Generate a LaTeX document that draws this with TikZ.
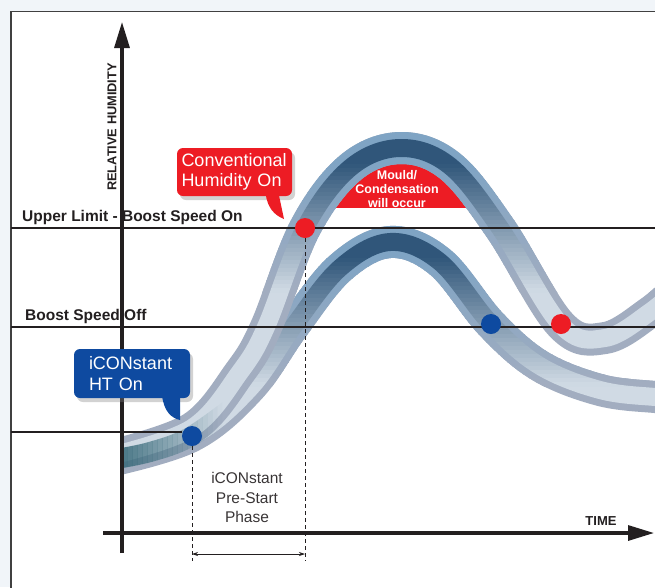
\documentclass[tikz,border=0pt]{standalone}
\usepackage{fontspec}
\setmainfont{Liberation Sans}
\usepackage{xcolor}
\usepackage{tikz}
\usetikzlibrary{arrows.meta,calc,positioning,shadows}

\definecolor{bgpanel}{HTML}{F1F5F9}
\definecolor{framegray}{HTML}{404040}
\definecolor{inkblack}{HTML}{231F20}
\definecolor{alertred}{HTML}{ED1C24}
\definecolor{iconblue}{HTML}{0E4AA0}
\definecolor{rimlight}{HTML}{A2ADC0}
\definecolor{corelight}{HTML}{D0DAE4}
\definecolor{rimdark}{HTML}{7FA4C4}
\definecolor{coredark}{HTML}{30567A}
\definecolor{coreteal}{HTML}{356878}

\tikzset{
  tubelight/.style={line width=7pt, draw=rimlight, double=corelight, double distance=18pt},
  tubedark/.style={line width=7pt, draw=rimdark, double=coredark, double distance=18pt},
  tubeband/.style={line width=7pt, draw=rimdark!#1!rimlight, double=coredark!#1!corelight, double distance=18pt},
  levelline/.style={draw=inkblack, line width=2.8pt},
  axisline/.style={draw=inkblack, line width=3.2pt, -{Triangle[length=26pt, width=15pt]}},
  guideline/.style={draw=inkblack, line width=0.7pt, dash pattern=on 4pt off 3pt},
  statedot/.style={circle, minimum size=20pt, inner sep=0pt},
  levellabel/.style={font=\bfseries\fontsize{15.5}{18}\selectfont, text=inkblack, inner sep=0pt},
  callout/.style={rounded corners=6pt, text=white, align=left, inner ysep=0pt,
    font=\fontsize{18}{20.5}\selectfont,
    drop shadow={opacity=0.35, shadow xshift=3pt, shadow yshift=-4pt}},
}

\def\uppercurve{plot[smooth, tension=0.6] coordinates {(110,456) (192,428) (240,372) (266,327) (305,228) (350,168) (400,148) (450,166) (500,228) (561,325) (605,338) (650,312) (685,282)}}
\def\lowercurve{plot[smooth, tension=0.6] coordinates {(110,461) (192,436) (250,388) (293,327) (340,268) (390,242) (440,262) (491,324) (540,366) (600,390) (655,397) (685,398)}}
\def\startcurve{plot[smooth, tension=0.6] coordinates {(110,460) (150,452) (190,437) (235,405)}}

\begin{document}
\begin{tikzpicture}[x=1pt, y=-1pt]
  \useasboundingbox (0,0) rectangle (655,587);
  \clip (0,0) rectangle (655,587);
  \fill[bgpanel] (0,0) rectangle (655,587);
  \draw[framegray, fill=white, line width=1.5pt] (11,11.5) rectangle (680,610);

  % mould zone under the upper curve
  \begin{scope}
    \clip (300,100) rectangle (500,207.5);
    \fill[alertred] \uppercurve -- cycle;
  \end{scope}

  % humidity tubes, dark at the crest and paler below it
  \begin{scope}
    \clip (122,0) rectangle (655,587);
    \foreach \crv/\pk in {\lowercurve/242, \uppercurve/148} {
      \draw[tubelight] \crv;
      \begin{scope}
        \clip (122,0) rectangle (660,\pk+16.5);
        \draw[tubedark] \crv;
      \end{scope}
      \foreach \i in {0,...,31} {
        \pgfmathsetmacro\ya{\pk+16+4*\i}
        \pgfmathtruncatemacro\p{100-100*(\i+0.5)/32}
        \begin{scope}
          \clip (122,\ya) rectangle (660,\ya+4.4);
          \draw[tubeband=\p] \crv;
        \end{scope}
      }
    }
    % teal tint where both tubes start
    \foreach \i in {0,...,19} {
      \pgfmathsetmacro\xa{122+5*\i}
      \pgfmathsetmacro\o{0.85*(1-(\i+0.5)/20)}
      \begin{scope}
        \clip (\xa,380) rectangle (\xa+5.3,480);
        \draw[coreteal, line width=20pt, opacity=\o] \startcurve;
      \end{scope}
    }
  \end{scope}

  \node[font=\bfseries\fontsize{12.5}{14}\selectfont, text=white, align=center] (mould) at (397,189) {Mould/\\Condensation\\will occur};

  % levels
  \coordinate (upL) at (11,228);  \coordinate (upR) at (655,228);
  \coordinate (offL) at (11,327); \coordinate (offR) at (655,327);
  \coordinate (lowL) at (11,432);
  \draw[levelline] (upL) -- (upR);
  \draw[levelline] (offL) -- (offR);

  % axes
  \coordinate (yfoot) at (122,553); \coordinate (ytip) at (122,22);
  \coordinate (xfoot) at (103,533); \coordinate (xtip) at (654,533);
  \draw[axisline] (yfoot) -- (ytip);
  \draw[axisline] (xfoot) -- (xtip);

  \node[statedot, fill=alertred] (convon) at (305,228) {};
  \node[statedot, fill=iconblue] (hton) at (192,436) {};
  \node[statedot, fill=iconblue] (htoff) at (491,324) {};
  \node[statedot, fill=alertred] (convoff) at (561,324) {};
  \draw[levelline] (lowL) -- (lowL -| hton.west);

  % pre-start phase
  \coordinate (phA) at (192,561); \coordinate (phB) at (305,561);
  \coordinate (arA) at (192,554); \coordinate (arB) at (305,554);
  \draw[guideline] (hton.south) -- (phA);
  \draw[guideline] (convon.south) -- (phB);
  \draw[inkblack, line width=0.7pt, {Stealth[length=6pt, width=4pt]}-{Stealth[length=6pt, width=4pt]}] (arA) -- (arB);
  \node[font=\fontsize{15.5}{19.5}\selectfont, text=inkblack!90, align=center, anchor=north] (phase) at (247,469) {iCONstant\\Pre-Start\\Phase};

  % labels
  \node[levellabel, anchor=base west] (uplbl) at (22,221) {Upper Limit - Boost Speed On};
  \node[levellabel, anchor=base west] (offlbl) at (25,320) {Boost Speed Off};
  \node[font=\bfseries\fontsize{12.8}{15}\selectfont, text=inkblack, rotate=90, inner sep=0pt] (ylbl) at (112,127) {RELATIVE HUMIDITY};
  \node[font=\bfseries\fontsize{13}{15}\selectfont, text=inkblack, inner sep=0pt] (xlbl) at (601,521) {TIME};

  % callouts
  \node[callout, fill=alertred, text width=106pt, inner xsep=4.5pt, minimum height=48pt] (conv) at (234.5,172) {Conventional\\Humidity On};
  \coordinate (convtip) at (284,219);
  \fill[alertred] ($(conv.south)+(31,-3)$) .. controls ($(conv.south)+(33,12)$) and ($(conv.south)+(40,19)$) .. (convtip) -- ($(conv.south)+(44,-3)$) -- cycle;

  \node[callout, fill=iconblue, text width=86pt, inner xsep=15pt, minimum height=49pt] (ht) at (132,373.5) {iCONstant\\HT On};
  \coordinate (httip) at (180,420);
  \fill[iconblue] ($(ht.south)+(30,-3)$) .. controls ($(ht.south)+(32,14)$) and ($(ht.south)+(40,20)$) .. (httip) -- ($(ht.south)+(48,-3)$) -- cycle;
\end{tikzpicture}
\end{document}
